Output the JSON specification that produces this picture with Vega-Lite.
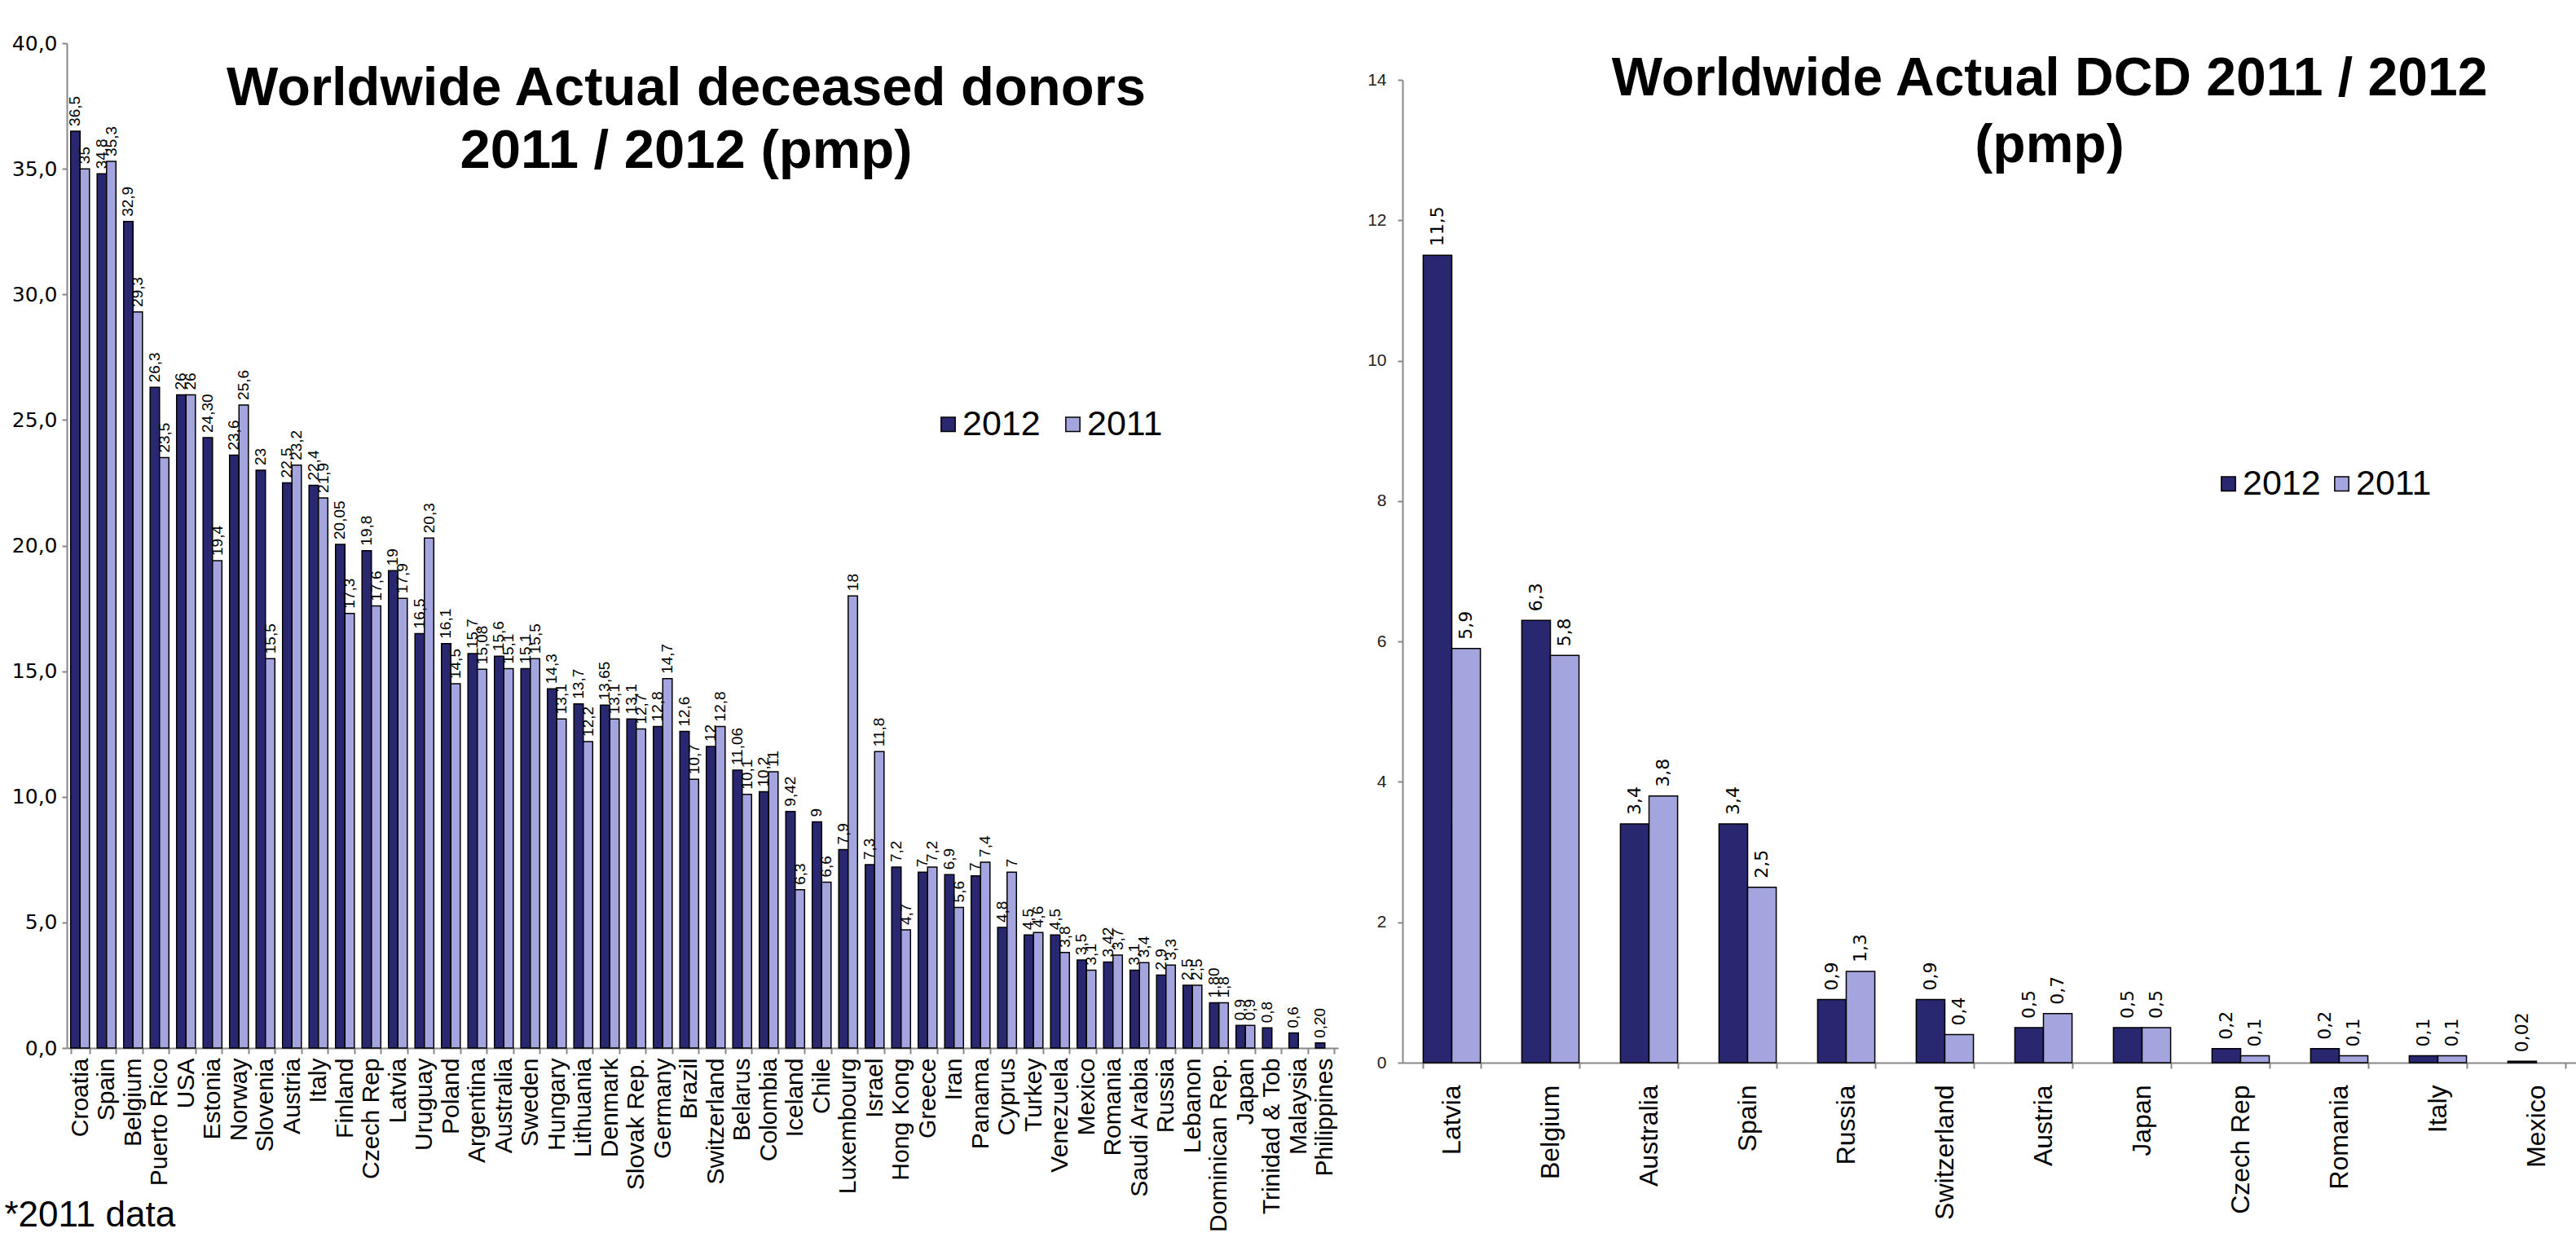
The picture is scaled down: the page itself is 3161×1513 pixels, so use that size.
{
  "$schema": "https://vega.github.io/schema/vega-lite/v6.json",
  "background": "white",
  "padding": {"left": 5, "top": 41, "right": 0, "bottom": 0},
  "config": {"view": {"stroke": null}, "font": "Liberation Sans"},
  "datasets": {
    "left": [
      {"country": "Croatia", "year": "2012", "value": 36.5, "label": "36,5"},
      {"country": "Croatia", "year": "2011", "value": 35, "label": "35"},
      {"country": "Spain", "year": "2012", "value": 34.8, "label": "34,8"},
      {"country": "Spain", "year": "2011", "value": 35.3, "label": "35,3"},
      {"country": "Belgium", "year": "2012", "value": 32.9, "label": "32,9"},
      {"country": "Belgium", "year": "2011", "value": 29.3, "label": "29,3"},
      {"country": "Puerto Rico", "year": "2012", "value": 26.3, "label": "26,3"},
      {"country": "Puerto Rico", "year": "2011", "value": 23.5, "label": "23,5"},
      {"country": "USA", "year": "2012", "value": 26, "label": "26"},
      {"country": "USA", "year": "2011", "value": 26, "label": "26"},
      {"country": "Estonia", "year": "2012", "value": 24.3, "label": "24,30"},
      {"country": "Estonia", "year": "2011", "value": 19.4, "label": "19,4"},
      {"country": "Norway", "year": "2012", "value": 23.6, "label": "23,6"},
      {"country": "Norway", "year": "2011", "value": 25.6, "label": "25,6"},
      {"country": "Slovenia", "year": "2012", "value": 23, "label": "23"},
      {"country": "Slovenia", "year": "2011", "value": 15.5, "label": "15,5"},
      {"country": "Austria", "year": "2012", "value": 22.5, "label": "22,5"},
      {"country": "Austria", "year": "2011", "value": 23.2, "label": "23,2"},
      {"country": "Italy", "year": "2012", "value": 22.4, "label": "22,4"},
      {"country": "Italy", "year": "2011", "value": 21.9, "label": "21,9"},
      {"country": "Finland", "year": "2012", "value": 20.05, "label": "20,05"},
      {"country": "Finland", "year": "2011", "value": 17.3, "label": "17,3"},
      {"country": "Czech Rep", "year": "2012", "value": 19.8, "label": "19,8"},
      {"country": "Czech Rep", "year": "2011", "value": 17.6, "label": "17,6"},
      {"country": "Latvia", "year": "2012", "value": 19, "label": "19"},
      {"country": "Latvia", "year": "2011", "value": 17.9, "label": "17,9"},
      {"country": "Uruguay", "year": "2012", "value": 16.5, "label": "16,5"},
      {"country": "Uruguay", "year": "2011", "value": 20.3, "label": "20,3"},
      {"country": "Poland", "year": "2012", "value": 16.1, "label": "16,1"},
      {"country": "Poland", "year": "2011", "value": 14.5, "label": "14,5"},
      {"country": "Argentina", "year": "2012", "value": 15.7, "label": "15,7"},
      {"country": "Argentina", "year": "2011", "value": 15.08, "label": "15,08"},
      {"country": "Australia", "year": "2012", "value": 15.6, "label": "15,6"},
      {"country": "Australia", "year": "2011", "value": 15.1, "label": "15,1"},
      {"country": "Sweden", "year": "2012", "value": 15.1, "label": "15,1"},
      {"country": "Sweden", "year": "2011", "value": 15.5, "label": "15,5"},
      {"country": "Hungary", "year": "2012", "value": 14.3, "label": "14,3"},
      {"country": "Hungary", "year": "2011", "value": 13.1, "label": "13,1"},
      {"country": "Lithuania", "year": "2012", "value": 13.7, "label": "13,7"},
      {"country": "Lithuania", "year": "2011", "value": 12.2, "label": "12,2"},
      {"country": "Denmark", "year": "2012", "value": 13.65, "label": "13,65"},
      {"country": "Denmark", "year": "2011", "value": 13.1, "label": "13,1"},
      {"country": "Slovak Rep.", "year": "2012", "value": 13.1, "label": "13,1"},
      {"country": "Slovak Rep.", "year": "2011", "value": 12.7, "label": "12,7"},
      {"country": "Germany", "year": "2012", "value": 12.8, "label": "12,8"},
      {"country": "Germany", "year": "2011", "value": 14.7, "label": "14,7"},
      {"country": "Brazil", "year": "2012", "value": 12.6, "label": "12,6"},
      {"country": "Brazil", "year": "2011", "value": 10.7, "label": "10,7"},
      {"country": "Switzerland", "year": "2012", "value": 12, "label": "12"},
      {"country": "Switzerland", "year": "2011", "value": 12.8, "label": "12,8"},
      {"country": "Belarus", "year": "2012", "value": 11.06, "label": "11,06"},
      {"country": "Belarus", "year": "2011", "value": 10.1, "label": "10,1"},
      {"country": "Colombia", "year": "2012", "value": 10.2, "label": "10,2"},
      {"country": "Colombia", "year": "2011", "value": 11, "label": "11"},
      {"country": "Iceland", "year": "2012", "value": 9.42, "label": "9,42"},
      {"country": "Iceland", "year": "2011", "value": 6.3, "label": "6,3"},
      {"country": "Chile", "year": "2012", "value": 9, "label": "9"},
      {"country": "Chile", "year": "2011", "value": 6.6, "label": "6,6"},
      {"country": "Luxembourg", "year": "2012", "value": 7.9, "label": "7,9"},
      {"country": "Luxembourg", "year": "2011", "value": 18, "label": "18"},
      {"country": "Israel", "year": "2012", "value": 7.3, "label": "7,3"},
      {"country": "Israel", "year": "2011", "value": 11.8, "label": "11,8"},
      {"country": "Hong Kong", "year": "2012", "value": 7.2, "label": "7,2"},
      {"country": "Hong Kong", "year": "2011", "value": 4.7, "label": "4,7"},
      {"country": "Greece", "year": "2012", "value": 7, "label": "7"},
      {"country": "Greece", "year": "2011", "value": 7.2, "label": "7,2"},
      {"country": "Iran", "year": "2012", "value": 6.9, "label": "6,9"},
      {"country": "Iran", "year": "2011", "value": 5.6, "label": "5,6"},
      {"country": "Panama", "year": "2012", "value": 6.85, "label": "7"},
      {"country": "Panama", "year": "2011", "value": 7.4, "label": "7,4"},
      {"country": "Cyprus", "year": "2012", "value": 4.8, "label": "4,8"},
      {"country": "Cyprus", "year": "2011", "value": 7, "label": "7"},
      {"country": "Turkey", "year": "2012", "value": 4.5, "label": "4,5"},
      {"country": "Turkey", "year": "2011", "value": 4.6, "label": "4,6"},
      {"country": "Venezuela", "year": "2012", "value": 4.5, "label": "4,5"},
      {"country": "Venezuela", "year": "2011", "value": 3.8, "label": "3,8"},
      {"country": "Mexico", "year": "2012", "value": 3.5, "label": "3,5"},
      {"country": "Mexico", "year": "2011", "value": 3.1, "label": "3,1"},
      {"country": "Romania", "year": "2012", "value": 3.42, "label": "3,42"},
      {"country": "Romania", "year": "2011", "value": 3.7, "label": "3,7"},
      {"country": "Saudi Arabia", "year": "2012", "value": 3.1, "label": "3,1"},
      {"country": "Saudi Arabia", "year": "2011", "value": 3.4, "label": "3,4"},
      {"country": "Russia", "year": "2012", "value": 2.9, "label": "2,9"},
      {"country": "Russia", "year": "2011", "value": 3.3, "label": "3,3"},
      {"country": "Lebanon", "year": "2012", "value": 2.5, "label": "2,5"},
      {"country": "Lebanon", "year": "2011", "value": 2.5, "label": "2,5"},
      {"country": "Dominican Rep.", "year": "2012", "value": 1.8, "label": "1,80"},
      {"country": "Dominican Rep.", "year": "2011", "value": 1.8, "label": "1,8"},
      {"country": "Japan", "year": "2012", "value": 0.9, "label": "0,9"},
      {"country": "Japan", "year": "2011", "value": 0.9, "label": "0,9"},
      {"country": "Trinidad & Tob", "year": "2012", "value": 0.8, "label": "0,8"},
      {"country": "Malaysia", "year": "2012", "value": 0.6, "label": "0,6"},
      {"country": "Philippines", "year": "2012", "value": 0.2, "label": "0,20"}
    ],
    "right": [
      {"country": "Latvia", "year": "2012", "value": 11.5, "label": "11,5"},
      {"country": "Latvia", "year": "2011", "value": 5.9, "label": "5,9"},
      {"country": "Belgium", "year": "2012", "value": 6.3, "label": "6,3"},
      {"country": "Belgium", "year": "2011", "value": 5.8, "label": "5,8"},
      {"country": "Australia", "year": "2012", "value": 3.4, "label": "3,4"},
      {"country": "Australia", "year": "2011", "value": 3.8, "label": "3,8"},
      {"country": "Spain", "year": "2012", "value": 3.4, "label": "3,4"},
      {"country": "Spain", "year": "2011", "value": 2.5, "label": "2,5"},
      {"country": "Russia", "year": "2012", "value": 0.9, "label": "0,9"},
      {"country": "Russia", "year": "2011", "value": 1.3, "label": "1,3"},
      {"country": "Switzerland", "year": "2012", "value": 0.9, "label": "0,9"},
      {"country": "Switzerland", "year": "2011", "value": 0.4, "label": "0,4"},
      {"country": "Austria", "year": "2012", "value": 0.5, "label": "0,5"},
      {"country": "Austria", "year": "2011", "value": 0.7, "label": "0,7"},
      {"country": "Japan", "year": "2012", "value": 0.5, "label": "0,5"},
      {"country": "Japan", "year": "2011", "value": 0.5, "label": "0,5"},
      {"country": "Czech Rep", "year": "2012", "value": 0.2, "label": "0,2"},
      {"country": "Czech Rep", "year": "2011", "value": 0.1, "label": "0,1"},
      {"country": "Romania", "year": "2012", "value": 0.2, "label": "0,2"},
      {"country": "Romania", "year": "2011", "value": 0.1, "label": "0,1"},
      {"country": "Italy", "year": "2012", "value": 0.1, "label": "0,1"},
      {"country": "Italy", "year": "2011", "value": 0.1, "label": "0,1"},
      {"country": "Mexico", "year": "2012", "value": 0.02, "label": "0,02"}
    ]
  },
  "bounds": "flush",
  "spacing": 79,
  "resolve": {
    "scale": {"color": "independent", "x": "independent", "y": "independent", "xOffset": "independent"},
    "legend": {"color": "independent"},
    "axis": {"x": "independent", "y": "independent"}
  },
  "hconcat": [
    {
      "width": 1560,
      "height": 1233,
      "data": {"name": "left"},
      "title": {
        "text": ["Worldwide Actual deceased  donors", "2011 / 2012 (pmp)"],
        "font": "Liberation Sans",
        "fontSize": 67,
        "fontWeight": "bold",
        "color": "black",
        "anchor": "middle",
        "frame": "group",
        "baseline": "alphabetic",
        "lineHeight": 77,
        "dx": -20,
        "dy": 236
      },
      "encoding": {
        "x": {
          "field": "country",
          "type": "nominal",
          "sort": null,
          "scale": {"paddingInner": 0.29, "paddingOuter": 0.145},
          "axis": {
            "title": "*2011 data",
            "titleFont": "Liberation Sans",
            "titleFontSize": 44,
            "titleFontWeight": "normal",
            "titleColor": "black",
            "titleAnchor": "start",
            "titleAlign": "left",
            "titleBaseline": "alphabetic",
            "titleX": -77,
            "titleY": 218,
            "labelAngle": -90,
            "labelFontSize": 30,
            "labelColor": "black",
            "labelPadding": 5,
            "labelOverlap": false,
            "labelLimit": 0,
            "tickBand": "extent",
            "tickSize": 7,
            "tickColor": "#888888",
            "domainColor": "#888888",
            "domainWidth": 2,
            "tickWidth": 2
          }
        },
        "xOffset": {"field": "year", "type": "nominal", "sort": ["2012", "2011"], "scale": {"domain": ["2012", "2011"], "paddingInner": 0}},
        "y": {
          "field": "value",
          "type": "quantitative",
          "scale": {"domain": [0, 40]},
          "axis": {
            "title": null,
            "values": [0, 5, 10, 15, 20, 25, 30, 35, 40],
            "labelExpr": "replace(format(datum.value, '.1f'), '.', ',')",
            "labelFont": "DejaVu Sans",
            "labelFontSize": 25,
            "labelColor": "black",
            "labelPadding": 6,
            "grid": false,
            "tickSize": 6,
            "tickColor": "#888888",
            "domainColor": "#888888",
            "domainWidth": 2,
            "tickWidth": 2
          }
        }
      },
      "layer": [
        {
          "mark": {"type": "bar", "stroke": "black", "strokeWidth": 1.5},
          "encoding": {
            "color": {
              "field": "year",
              "type": "nominal",
              "scale": {"domain": ["2012", "2011"], "range": ["#29276F", "#A4A4DE"]},
              "legend": {
                "title": null,
                "orient": "none",
                "direction": "horizontal",
                "legendX": 1060,
                "legendY": 446,
                "symbolType": "square",
                "symbolSize": 300,
                "symbolStrokeColor": "black",
                "symbolStrokeWidth": 1.5,
                "labelFont": "Liberation Sans",
                "labelFontSize": 43,
                "labelColor": "black",
                "labelOffset": -4,
                "columnPadding": 18,
                "padding": 0
              }
            }
          }
        },
        {
          "mark": {"type": "text", "angle": 270, "align": "left", "baseline": "middle", "dx": 6, "fontSize": 19, "font": "Liberation Sans", "color": "black"},
          "encoding": {"text": {"field": "label", "type": "nominal"}}
        }
      ]
    },
    {
      "width": 1452,
      "height": 1251,
      "data": {"name": "right"},
      "title": {
        "text": ["Worldwide Actual DCD 2011 / 2012", "(pmp)"],
        "font": "Liberation Sans",
        "fontSize": 66,
        "fontWeight": "bold",
        "color": "black",
        "anchor": "middle",
        "frame": "group",
        "baseline": "alphabetic",
        "lineHeight": 82,
        "dx": 68,
        "dy": 216
      },
      "encoding": {
        "x": {
          "field": "country",
          "type": "nominal",
          "sort": null,
          "scale": {"paddingInner": 0.42, "paddingOuter": 0.21},
          "axis": {
            "title": null,
            "labelAngle": -90,
            "labelFontSize": 32,
            "labelColor": "black",
            "labelPadding": 20,
            "labelOverlap": false,
            "labelLimit": 0,
            "tickBand": "extent",
            "tickSize": 7,
            "tickColor": "#888888",
            "domainColor": "#888888",
            "domainWidth": 2,
            "tickWidth": 2
          }
        },
        "xOffset": {"field": "year", "type": "nominal", "sort": ["2012", "2011"], "scale": {"domain": ["2012", "2011"], "paddingInner": 0}},
        "y": {
          "field": "value",
          "type": "quantitative",
          "scale": {"domain": [0, 14], "range": [1251, 45]},
          "axis": {
            "title": null,
            "values": [0, 2, 4, 6, 8, 10, 12, 14],
            "labelFontSize": 21,
            "labelColor": "#222222",
            "labelPadding": 14,
            "grid": false,
            "tickSize": 6,
            "tickColor": "#888888",
            "domainColor": "#888888",
            "domainWidth": 2,
            "tickWidth": 2
          }
        }
      },
      "layer": [
        {
          "mark": {"type": "bar", "stroke": "black", "strokeWidth": 1.5},
          "encoding": {
            "color": {
              "field": "year",
              "type": "nominal",
              "scale": {"domain": ["2012", "2011"], "range": ["#29276F", "#A4A4DE"]},
              "legend": {
                "title": null,
                "orient": "none",
                "direction": "horizontal",
                "legendX": 992,
                "legendY": 519,
                "symbolType": "square",
                "symbolSize": 300,
                "symbolStrokeColor": "black",
                "symbolStrokeWidth": 1.5,
                "labelFont": "Liberation Sans",
                "labelFontSize": 43,
                "labelColor": "black",
                "labelOffset": -4,
                "columnPadding": 4,
                "padding": 0
              }
            }
          }
        },
        {
          "mark": {"type": "text", "angle": 270, "align": "left", "baseline": "middle", "dx": 11, "fontSize": 22, "font": "DejaVu Sans", "color": "black"},
          "encoding": {"text": {"field": "label", "type": "nominal"}}
        }
      ]
    }
  ]
}
